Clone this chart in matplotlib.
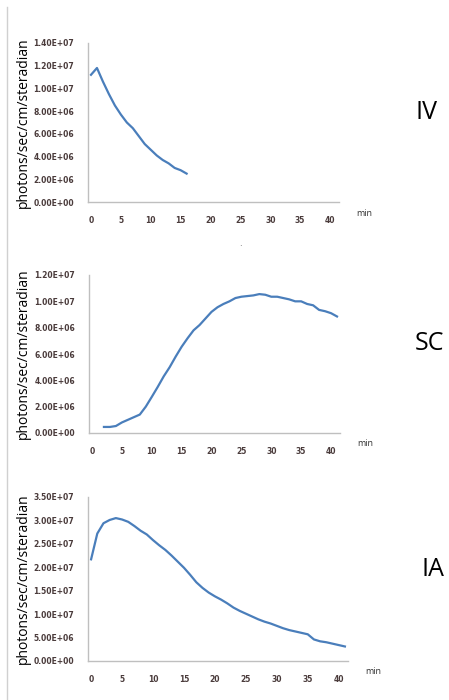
import numpy as np
import matplotlib.pyplot as plt
from matplotlib.lines import Line2D

# datos (photons/sec/cm/steradian vs min)
iv_min = list(range(0, 17))
iv_val = [11.2e6, 11.8e6, 10.6e6, 9.5e6, 8.5e6, 7.7e6, 7.0e6, 6.5e6, 5.8e6,
          5.1e6, 4.6e6, 4.1e6, 3.7e6, 3.4e6, 3.0e6, 2.8e6, 2.5e6]

sc_min = list(range(2, 42))
sc_val = [0.46e6, 0.46e6, 0.53e6, 0.8e6, 1.0e6, 1.2e6, 1.4e6, 2.0e6, 2.74e6,
          3.5e6, 4.3e6, 5.0e6, 5.8e6, 6.55e6, 7.2e6, 7.8e6, 8.2e6, 8.7e6,
          9.2e6, 9.55e6, 9.8e6, 10.0e6, 10.25e6, 10.35e6, 10.4e6, 10.45e6,
          10.55e6, 10.5e6, 10.35e6, 10.35e6, 10.25e6, 10.15e6, 10.0e6,
          10.0e6, 9.8e6, 9.7e6, 9.35e6, 9.25e6, 9.1e6, 8.85e6]

ia_min = list(range(0, 42))
ia_val = [2.17e7, 2.72e7, 2.94e7, 3.01e7, 3.05e7, 3.02e7, 2.97e7, 2.88e7,
          2.78e7, 2.70e7, 2.58e7, 2.47e7, 2.37e7, 2.25e7, 2.12e7, 1.99e7,
          1.84e7, 1.68e7, 1.56e7, 1.46e7, 1.38e7, 1.31e7, 1.23e7, 1.14e7,
          1.07e7, 1.01e7, 0.95e7, 0.89e7, 0.84e7, 0.80e7, 0.75e7, 0.70e7,
          0.66e7, 0.63e7, 0.60e7, 0.57e7, 0.46e7, 0.42e7, 0.40e7, 0.37e7,
          0.34e7, 0.31e7]

paneles = [
    # (x, y, ymax, paso, etiqueta, x de la etiqueta, caja en pixeles: izq, der, arriba, abajo)
    (iv_min, iv_val, 1.4e7, 2e6, 'IV', 426, (88, 339, 43, 202)),
    (sc_min, sc_val, 1.2e7, 2e6, 'SC', 430, (89, 340, 275, 433)),
    (ia_min, ia_val, 3.5e7, 5e6, 'IA', 433, (88, 348, 497, 661)),
]

W, H = 449, 700
fig = plt.figure(figsize=(W / 100, H / 100), dpi=100)
fuente = 'Open Sans'
color_tick = '#4a3b3b'

for x, y, ymax, paso, nombre, xn, (l, r, t, b) in paneles:
    ax = fig.add_axes([l / W, 1 - b / H, (r - l) / W, (b - t) / H])
    ax.plot(x, y, color='#4a7ebb', lw=1.6, solid_joinstyle='round')
    ax.set_xlim(-0.5, 41.5)
    ax.set_ylim(0, ymax)
    ax.set_xticks(range(0, 41, 5))
    yt = np.arange(0, ymax + paso / 2, paso)
    ax.set_yticks(yt)
    ax.set_yticklabels(['%.2fE+%02d' % (v / 10 ** int(np.floor(np.log10(v))),
                                        int(np.floor(np.log10(v))))
                        if v > 0 else '0.00E+00' for v in yt])
    ax.tick_params(length=0, labelsize=5.5, labelcolor=color_tick, pad=10)
    ax.tick_params(axis='x', pad=10)
    for lab in ax.get_xticklabels() + ax.get_yticklabels():
        lab.set_fontweight('bold')
    for s in ['top', 'right']:
        ax.spines[s].set_visible(False)
    for s in ['left', 'bottom']:
        ax.spines[s].set_color('#bfbfbf')
        ax.spines[s].set_linewidth(1)
    fig.text(23 / W, 1 - (t + b) / 2 / H, 'photons/sec/cm/steradian',
             rotation=90, ha='center', va='center', fontsize=10,
             family=fuente, color='black')
    fig.text((r + 25) / W, 1 - (b + 11) / H, 'min', ha='center', va='center',
             fontsize=6.5, family=fuente, color='#333333')
    fig.text(xn / W, 1 - (t + b - 20) / 2 / H, nombre, ha='center',
             va='center', fontsize=18, family=fuente, color='black')

# linea gris del borde izquierdo y punto suelto
fig.add_artist(Line2D([7 / W, 7 / W], [0, 1 - 7 / H], color='#d0d0d0', lw=1))
fig.text(240 / W, 1 - 248 / H, '.', ha='center', va='bottom', fontsize=6,
         color='#555555')

fig.savefig('out.png', dpi=100)
